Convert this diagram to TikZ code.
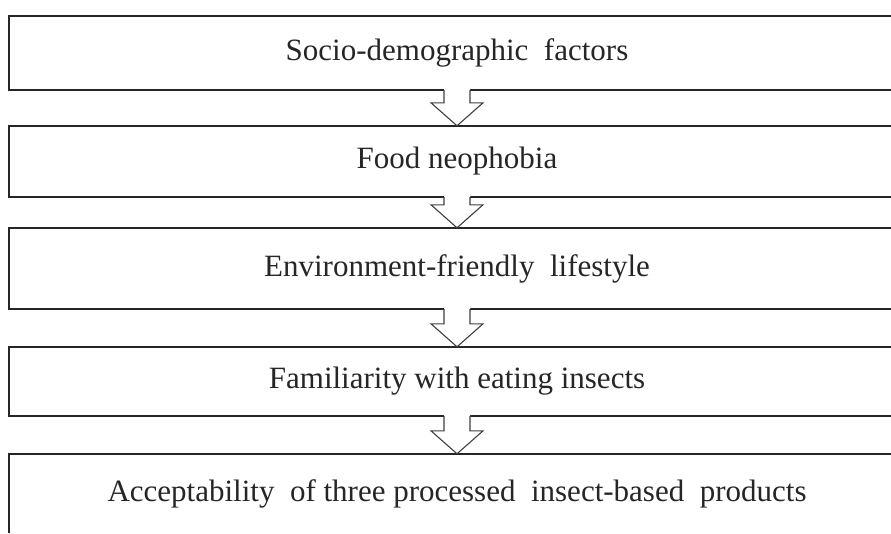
\documentclass[tikz,border=0pt]{standalone}
\usepackage{fontspec}
\setmainfont{Liberation Serif}
\usetikzlibrary{calc}

\tikzset{
  stage/.style={minimum width=896pt, inner sep=0pt,
                font=\fontsize{31}{36}\selectfont, text=black!85},
  stageline/.style={draw=black!85, line width=1.8pt, line join=miter},
  blockarrow/.style={draw=black!75, line width=1.1pt, line join=miter}
}

\begin{document}
\begin{tikzpicture}[x=1pt, y=1pt]
  \fill[white] (0,0) rectangle (891,-533);
  \useasboundingbox (0,0) rectangle (891,-533);
  \coordinate (edge) at (891,-533);
  % the five stages, top to bottom
  \node[stage, minimum height=74pt] (socio)  at (457,-53)    {Socio-demographic\ \ factors};
  \node[stage, minimum height=71pt] (neo)    at (457,-161.5) {Food neophobia};
  \node[stage, minimum height=81pt] (env)    at (457,-268.5) {Environment-friendly\ \ lifestyle};
  \node[stage, minimum height=69pt] (fam)    at (457,-381.5) {Familiarity with eating insects};
  \node[stage, minimum height=80pt] (accept) at (457,-494)   {Acceptability\ \ of three processed\ \ insect-based\ \ products};
  % box outlines run off the right edge
  \foreach \n in {socio, neo, env, fam}
    \draw[stageline] (edge |- \n.north) -- (\n.north west) -- (\n.south west) -- (edge |- \n.south);
  \draw[stageline] (edge |- accept.north) -- (accept.north west) -- (accept.west |- edge);
  % hollow arrows, open into the box above
  \foreach \a/\b in {socio/neo, neo/env, env/fam, fam/accept} {
    \coordinate (l) at ($(\a.south)+(-13,0)$);
    \coordinate (r) at ($(\a.south)+(13,0)$);
    \coordinate (hb) at ($(\b.north)+(0,23)$);
    \fill[white] ($(l)+(0,2)$) -- (l |- hb) -- ($(hb)+(-26,0)$) -- (\b.north)
      -- ($(hb)+(26,0)$) -- (r |- hb) -- ($(r)+(0,2)$) -- cycle;
    \draw[blockarrow] (l) -- (l |- hb) -- ($(hb)+(-26,0)$) -- (\b.north)
      -- ($(hb)+(26,0)$) -- (r |- hb) -- (r);
  }
\end{tikzpicture}
\end{document}
